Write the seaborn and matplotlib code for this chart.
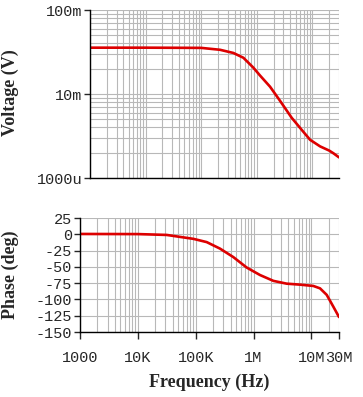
import numpy as np
import pandas as pd
import matplotlib
matplotlib.use('Agg')
import matplotlib.pyplot as plt
import matplotlib.ticker as mticker
import seaborn as sns

# magnitude (V) vs frequency (Hz)
freq_mag = [1e3, 1e4, 1e5, 2.18e5, 3.78e5, 5.73e5, 8.65e5, 1.14e6, 1.73e6, 2.61e6,
            4.24e6, 6.5e6, 9.06e6, 1.37e7, 2.0e7, 2.38e7, 3.0e7]
volt_mv = [35.6, 35.6, 35.4, 33.6, 30.8, 27.0, 20.6, 16.6, 12.2, 8.3,
           5.2, 3.7, 2.85, 2.38, 2.12, 1.97, 1.76]

# phase (deg) vs frequency (Hz)
freq_ph = [1e3, 1e4, 3.15e4, 5.35e4, 9.1e4, 1.55e5, 2.63e5, 4.47e5, 7.6e5,
           1.29e6, 2.2e6, 3.74e6, 6.35e6, 1.08e7, 1.41e7, 1.84e7, 2.39e7, 3.0e7]
phase = [0.5, 0.3, -1, -4, -7, -12, -22, -35, -51,
         -62.5, -71.5, -75.8, -77.3, -79.3, -83, -93, -111, -127]

x_ticks = [1e3, 1e4, 1e5, 1e6, 1e7, 3e7]
x_labels = ['1000', '10K', '100K', '1M', '10M', '30M']
v_ticks = [1e-3, 1e-2, 1e-1]
v_labels = ['1000u', '10m', '100m']
p_ticks = [25, 0, -25, -50, -75, -100, -125, -150]

mag_df = pd.DataFrame({'freq': freq_mag, 'volt': np.array(volt_mv) * 1e-3})
ph_df = pd.DataFrame({'freq': freq_ph, 'phase': phase})

sns.set_style('white')
plt.rcParams['font.family'] = ['Liberation Mono', 'DejaVu Sans']

red = '#dd0000'
grid_c = '#b8b8b8'

fig = plt.figure(figsize=(3.63, 3.97), dpi=100)
ax1 = fig.add_axes([90/363, 1 - 178/397, 249/363, 168/397])
ax2 = fig.add_axes([80/363, 1 - 332/397, 259/363, 114/397])

sns.lineplot(data=mag_df, x='freq', y='volt', ax=ax1, color=red, linewidth=1.9)
sns.lineplot(data=ph_df, x='freq', y='phase', ax=ax2, color=red, linewidth=1.9)

for ax in (ax1, ax2):
    ax.set_xscale('log')
    ax.set_xlim(1e3, 3e7)
    ax.set_xlabel('')
    ax.set_ylabel('')
    for s in ('top', 'right'):
        ax.spines[s].set_visible(False)
    for s in ('left', 'bottom'):
        ax.spines[s].set_color('black')
        ax.spines[s].set_linewidth(1.0)
    ax.xaxis.set_minor_locator(mticker.LogLocator(base=10, subs=np.arange(2, 10)))
    ax.grid(True, which='both', axis='x', color=grid_c, linewidth=0.8)
    ax.tick_params(which='minor', length=0)
    ax.set_axisbelow(True)

# top: voltage
ax1.set_yscale('log')
ax1.set_ylim(1e-3, 1e-1)
ax1.set_yticks(v_ticks)
ax1.set_yticklabels(v_labels)
ax1.yaxis.set_minor_locator(mticker.LogLocator(base=10, subs=np.arange(2, 10)))
ax1.yaxis.set_minor_formatter(mticker.NullFormatter())
ax1.grid(True, which='both', axis='y', color=grid_c, linewidth=0.8)
ax1.set_xticks(x_ticks)
ax1.tick_params(axis='x', which='major', length=0, labelbottom=False)
ax1.tick_params(axis='y', which='major', left=True, length=4, width=1, pad=1.5, labelsize=11)

# bottom: phase
ax2.set_ylim(-150, 25)
ax2.set_yticks(p_ticks)
ax2.set_yticklabels([str(t) for t in p_ticks])
ax2.grid(True, which='major', axis='y', color=grid_c, linewidth=0.8)
ax2.set_xticks(x_ticks)
ax2.set_xticklabels(x_labels)
ax2.tick_params(axis='y', which='major', left=True, length=4, width=1, pad=1.5, labelsize=11)
ax2.tick_params(axis='x', which='major', bottom=True, length=5, width=1, pad=9, labelsize=11)

lab = dict(family='Liberation Serif', weight='bold', fontsize=13)
fig.text(10/363, 1 - 93/397, 'Voltage (V)', rotation=90, ha='center', va='center', **lab)
fig.text(10/363, 1 - 275/397, 'Phase (deg)', rotation=90, ha='center', va='center', **lab)
fig.text(209/363, 1 - 382/397, 'Frequency (Hz)', ha='center', va='center', **lab)

fig.savefig('out.png', dpi=100)
